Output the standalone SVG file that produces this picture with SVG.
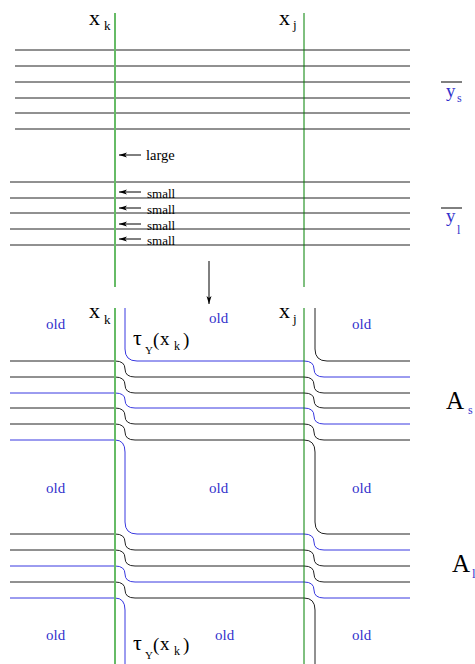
<svg xmlns="http://www.w3.org/2000/svg" width="475" height="664" viewBox="0 0 475 664" font-family="'Liberation Serif', 'Times New Roman', serif">
<defs>
<style>
.k{fill:none;stroke:#222;stroke-width:1}
.b{fill:none;stroke:#3838e0;stroke-width:1}
.gk{stroke:#66bb66;stroke-width:2}
.gj{stroke:#008000;stroke-width:1}
.ar{stroke:#000;stroke-width:1;fill:none}
text{font-family:'Liberation Serif','Times New Roman',serif;fill:#000}
.t{font-size:22px}
.sub{font-size:13px}
.old{font-size:15px;fill:#3333cc}
.sm{font-size:13px}
.bl{fill:#3333cc}
</style>
<marker id="ah" viewBox="0 0 8 6" refX="8" refY="3" markerWidth="8" markerHeight="6" markerUnits="userSpaceOnUse" orient="auto">
<path d="M0,0.5 L8,3 L0,5.5 L2,3 Z" fill="#000"/>
</marker>
</defs>
<rect width="475" height="664" fill="#fff"/>

<g id="top">
<g id="top-lines">
<path class="k" d="M15,50H410M15,66H410M15,82H410M15,98H410M15,113H410M15,129H410"/>
<path class="k" d="M10,182H410M10,198H410M10,213H410M10,229H410M10,245H410"/>
</g>
<line class="gk" x1="115" y1="13" x2="115" y2="287"/>
<line class="gj" x1="304" y1="13" x2="304" y2="287"/>
<g id="top-labels">
<text class="t" x="89" y="25">x</text><text class="sub" x="104" y="30">k</text>
<text class="t" x="279" y="25">x</text><text class="sub" x="293" y="29">j</text>
<line x1="441" y1="82" x2="462" y2="82" stroke="#000" stroke-width="1"/>
<text class="bl" x="446" y="97" font-size="19">y</text><text class="bl" x="457" y="102" font-size="12">s</text>
<line x1="441" y1="208" x2="462" y2="208" stroke="#000" stroke-width="1"/>
<text class="bl" x="446" y="222" font-size="19">y</text><text class="bl" x="457" y="234" font-size="12">l</text>
</g>
<g id="arrows">
<line class="ar" x1="141" y1="155" x2="119" y2="155" marker-end="url(#ah)"/>
<line class="ar" x1="141" y1="192" x2="119" y2="192" marker-end="url(#ah)"/>
<line class="ar" x1="141" y1="208" x2="119" y2="208" marker-end="url(#ah)"/>
<line class="ar" x1="141" y1="224" x2="119" y2="224" marker-end="url(#ah)"/>
<line class="ar" x1="141" y1="239" x2="119" y2="239" marker-end="url(#ah)"/>
<text x="146" y="160" font-size="14.5">large</text>
<text class="sm" x="147" y="198">small</text>
<text class="sm" x="147" y="214">small</text>
<text class="sm" x="147" y="230">small</text>
<text class="sm" x="147" y="245">small</text>
<line class="ar" x1="209" y1="261" x2="209" y2="304" marker-end="url(#ah)"/>
</g>
</g>

<g id="bottom">
<g id="strands">
<path class="b" d="M125,308V349Q125,361 137,361H304Q314,361 314,369Q314,377 324,377H410"/>
<path class="k" d="M315,308V349Q315,361 327,361H410"/>
<path class="k" d="M10,361H115Q125,361 125,369Q125,377 135,377H304Q314,377 314,385Q314,393 324,393H410"/>
<path class="k" d="M10,377H115Q125,377 125,385Q125,393 135,393H304Q314,393 314,400Q314,408 324,408H410"/>
<path class="b" d="M10,393H115Q125,393 125,400Q125,408 135,408H304Q314,408 314,416Q314,424 324,424H410"/>
<path class="k" d="M10,408H115Q125,408 125,416Q125,424 135,424H304Q314,424 314,432Q314,440 324,440H410"/>
<path class="k" d="M10,424H115Q125,424 125,432Q125,440 135,440H304Q315,440 315,452V522Q315,534 327,534H410"/>
<path class="b" d="M10,440H115Q125,440 125,452V522Q125,534 137,534H304Q314,534 314,542Q314,550 324,550H410"/>
<path class="k" d="M10,534H115Q125,534 125,542Q125,550 135,550H304Q314,550 314,558Q314,566 324,566H410"/>
<path class="k" d="M10,550H115Q125,550 125,558Q125,566 135,566H304Q314,566 314,574Q314,582 324,582H410"/>
<path class="b" d="M10,566H115Q125,566 125,574Q125,582 135,582H304Q314,582 314,590Q314,598 324,598H410"/>
<path class="k" d="M10,582H115Q125,582 125,590Q125,598 135,598H304Q315,598 315,610V664"/>
<path class="b" d="M10,598H115Q125,598 125,610V664"/>
</g>
<line class="gk" x1="115" y1="308" x2="115" y2="664"/>
<line class="gj" x1="304" y1="308" x2="304" y2="664"/>
<g id="bottom-labels">
<text class="t" x="89" y="318">x</text><text class="sub" x="104" y="324">k</text>
<text class="t" x="279" y="318">x</text><text class="sub" x="293" y="323">j</text>
<text class="old" x="46" y="329">old</text>
<text class="old" x="209" y="323">old</text>
<text class="old" x="352" y="329">old</text>
<text class="old" x="46" y="493">old</text>
<text class="old" x="209" y="493">old</text>
<text class="old" x="352" y="493">old</text>
<text class="old" x="46" y="640">old</text>
<text class="old" x="215" y="640">old</text>
<text class="old" x="352" y="640">old</text>
<text x="133" y="345" font-size="22">τ</text><text x="145" y="354" font-size="11">Y</text><text x="153" y="346" font-size="19">(</text><text x="160" y="345" font-size="19">x</text><text x="174" y="350" font-size="12">k</text><text x="183" y="346" font-size="19">)</text>
<text x="133" y="650" font-size="22">τ</text><text x="145" y="659" font-size="11">Y</text><text x="153" y="651" font-size="19">(</text><text x="160" y="650" font-size="19">x</text><text x="174" y="655" font-size="12">k</text><text x="183" y="651" font-size="19">)</text>
<text x="446" y="409" font-size="25">A</text><text class="bl" x="468" y="414" font-size="12">s</text>
<text x="452" y="572" font-size="25">A</text><text class="bl" x="472" y="578" font-size="13">l</text>
</g>
</g>
</svg>
